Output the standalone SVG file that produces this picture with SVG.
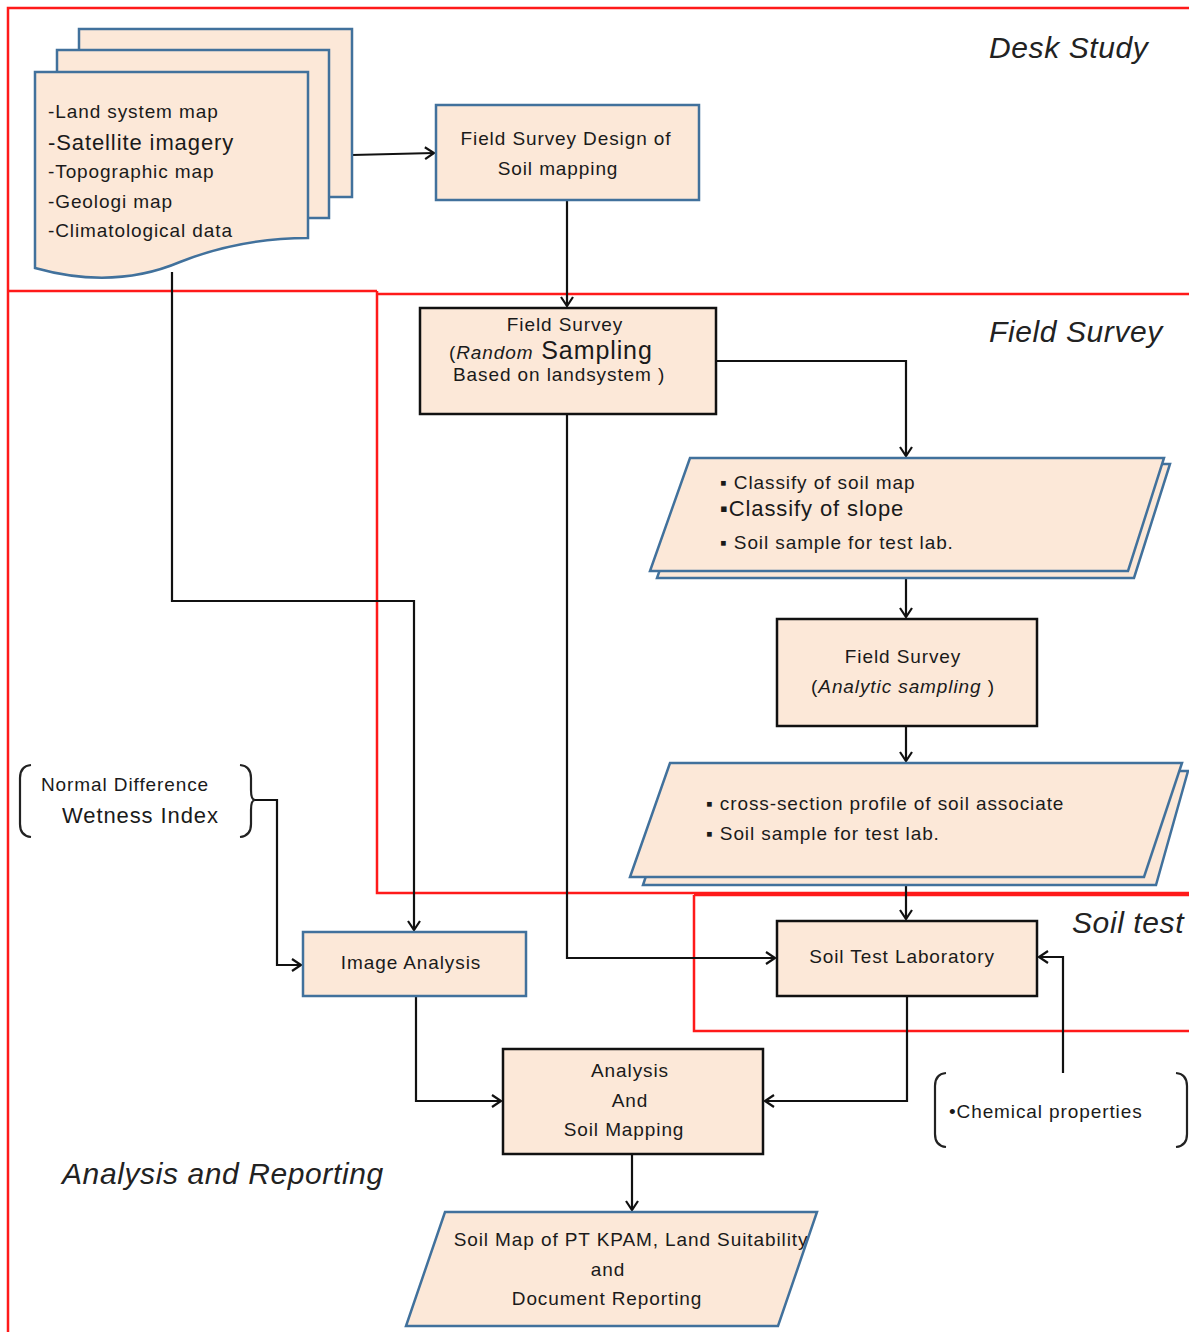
<svg xmlns="http://www.w3.org/2000/svg" width="1189" height="1332" viewBox="0 0 1189 1332">
<style>
.bg{fill:#fff}
.region{fill:none;stroke:#ff1a1a;stroke-width:2.5}
.nb{fill:#fce8d8;stroke:#41719c;stroke-width:2.5}
.nk{fill:#fce8d8;stroke:#111;stroke-width:2.5}
.t{font-family:"Liberation Sans",Arial,sans-serif;font-size:19px;letter-spacing:0.9px;fill:#1a1a1a}
.tl{font-family:"Liberation Sans",Arial,sans-serif;font-size:22px;letter-spacing:0.9px;fill:#1a1a1a}
.c{text-anchor:middle}
.lab{font-family:"Liberation Sans",Arial,sans-serif;font-style:italic;font-size:30px;letter-spacing:0.6px;fill:#222}
.conn{fill:none;stroke:#111;stroke-width:2.2}
.br{fill:none;stroke:#222;stroke-width:2.2}
</style>
<defs>
<marker id="arr" markerUnits="userSpaceOnUse" markerWidth="20" markerHeight="20" viewBox="-12 -10 14 20" refX="0" refY="0" orient="auto">
<path d="M-9,-6 L0,0 L-9,6" fill="none" stroke="#111" stroke-width="2.2"/>
</marker>
</defs>
<rect class="bg" x="0" y="0" width="1189" height="1332"/>

<g id="regions">
<path class="region" d="M1189,8 H8 V1332"/>
<path class="region" d="M8,291 H377"/>
<path class="region" d="M377,291 V893 H1189 M377,294 H1189"/>
<path class="region" d="M694,895 H1189 M694,895 V1031 H1189"/>
</g>

<g id="region-labels">
<text class="lab" x="989" y="58">Desk Study</text>
<text class="lab" x="989" y="342">Field Survey</text>
<text class="lab" x="1072" y="933">Soil test</text>
<text class="lab" x="62" y="1184">Analysis and Reporting</text>
</g>

<g id="connectors">
<path class="conn" d="M352,155 L434,153" marker-end="url(#arr)"/>
<path class="conn" d="M567,200 V306" marker-end="url(#arr)"/>
<path class="conn" d="M716,361 H906 V456" marker-end="url(#arr)"/>
<path class="conn" d="M906,578 V617" marker-end="url(#arr)"/>
<path class="conn" d="M906,726 V761" marker-end="url(#arr)"/>
<path class="conn" d="M906,885 V919" marker-end="url(#arr)"/>
<path class="conn" d="M567,414 V958 H775" marker-end="url(#arr)"/>
<path class="conn" d="M172,272 V601 H414 V930" marker-end="url(#arr)"/>
<path class="conn" d="M253,800 H277 V965 H301" marker-end="url(#arr)"/>
<path class="conn" d="M416,996 V1101 H501" marker-end="url(#arr)"/>
<path class="conn" d="M907,996 V1101 H765" marker-end="url(#arr)"/>
<path class="conn" d="M1063,1073 V957 H1039" marker-end="url(#arr)"/>
<path class="conn" d="M632,1154 V1210" marker-end="url(#arr)"/>
</g>

<g id="node-documents">
<rect class="nb" x="79" y="29" width="273" height="168"/>
<rect class="nb" x="57" y="50" width="272" height="168"/>
<path class="nb" d="M35,72 H308 V238 C255,238 215,248 180,262 C135,281 85,282 35,268 Z"/>
<text class="t" x="48" y="118">-Land system map</text>
<text class="tl" x="48" y="150">-Satellite imagery</text>
<text class="t" x="48" y="178">-Topographic map</text>
<text class="t" x="48" y="208">-Geologi map</text>
<text class="t" x="48" y="237">-Climatological data</text>
</g>

<g id="node-design">
<rect class="nb" x="436" y="105" width="263" height="95"/>
<text class="t c" x="566" y="145">Field Survey Design of</text>
<text class="t c" x="558" y="175">Soil mapping</text>
</g>

<g id="node-random">
<rect class="nk" x="420" y="308" width="296" height="106"/>
<text class="t c" x="565" y="331">Field Survey</text>
<text class="t" x="449" y="359"><tspan>(</tspan><tspan font-style="italic">Random</tspan><tspan font-size="25"> Sampling</tspan></text>
<text class="t" x="453" y="381">Based on landsystem )</text>
</g>

<g id="node-classify">
<path class="nb" d="M697,464 H1170 L1134,578 H657 Z"/>
<path class="nb" d="M690,458 H1164 L1128,571 H650 Z"/>
<text class="t" x="720" y="489">▪ Classify of soil map</text>
<text class="tl" x="720" y="516">▪Classify of slope</text>
<text class="t" x="720" y="549">▪ Soil sample for test lab.</text>
</g>

<g id="node-analytic">
<rect class="nk" x="777" y="619" width="260" height="107"/>
<text class="t c" x="903" y="663">Field Survey</text>
<text class="t c" x="903" y="693">(<tspan font-style="italic">Analytic sampling</tspan> )</text>
</g>

<g id="node-profile">
<path class="nb" d="M681,771 H1188 L1156,885 H643 Z"/>
<path class="nb" d="M670,763 H1182 L1144,877 H630 Z"/>
<text class="t" x="706" y="810">▪ cross-section profile of soil associate</text>
<text class="t" x="706" y="840">▪ Soil sample for test lab.</text>
</g>

<g id="node-lab">
<rect class="nk" x="777" y="921" width="260" height="75"/>
<text class="t c" x="902" y="963">Soil Test Laboratory</text>
</g>

<g id="node-ndwi">
<path class="br" d="M31,765 Q20,766 20,778 V824 Q20,836 31,837"/>
<path class="br" d="M240,765 Q251,766 251,778 V790 Q251,800 255,800 Q251,800 251,810 V824 Q251,836 240,837"/>
<text class="t" x="41" y="791">Normal Difference</text>
<text class="tl" x="62" y="823">Wetness Index</text>
</g>

<g id="node-image">
<rect class="nb" x="303" y="932" width="223" height="64"/>
<text class="t c" x="411" y="969">Image Analysis</text>
</g>

<g id="node-chem">
<path class="br" d="M946,1073 Q935,1074 935,1086 V1134 Q935,1146 946,1147"/>
<path class="br" d="M1176,1073 Q1187,1074 1187,1086 V1134 Q1187,1146 1176,1147"/>
<text class="t" x="949" y="1118">•Chemical properties</text>
</g>

<g id="node-mapping">
<rect class="nk" x="503" y="1049" width="260" height="105"/>
<text class="t c" x="630" y="1077">Analysis</text>
<text class="t c" x="630" y="1107">And</text>
<text class="t c" x="624" y="1136">Soil Mapping</text>
</g>

<g id="node-report">
<path class="nb" d="M445,1212 H817 L778,1326 H406 Z"/>
<text class="t c" x="631" y="1246">Soil Map of PT KPAM, Land Suitability</text>
<text class="t c" x="608" y="1276">and</text>
<text class="t c" x="607" y="1305">Document Reporting</text>
</g>
</svg>
